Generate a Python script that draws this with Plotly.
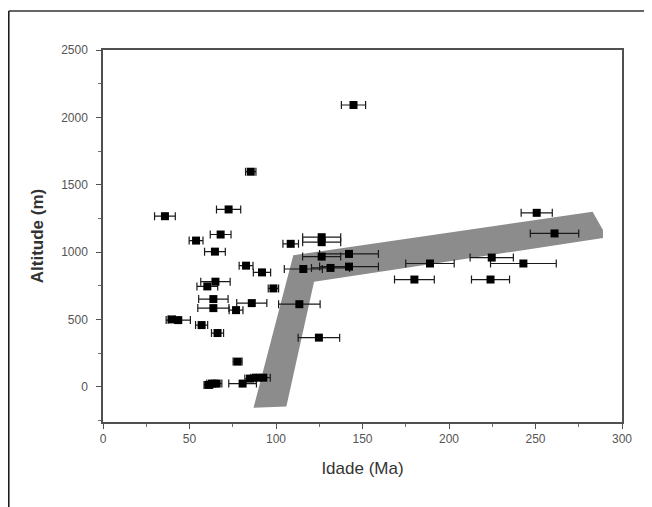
import plotly.graph_objects as go

# Sample ages (Ma), altitudes (m) and age uncertainties (Ma)
age = [144.8, 85.4, 72.6, 35.8, 68.0, 53.8, 64.7, 108.5, 126.4, 126.4,
       126.4, 142.2, 142.2, 131.5, 115.8, 82.7, 91.9, 98.5, 60.3, 65.0,
       63.8, 63.8, 76.9, 86.0, 113.5, 39.7, 43.5, 57.0, 66.2, 124.8,
       77.8, 85.0, 88.4, 92.7, 80.7, 60.9, 63.0, 65.7, 180.0, 189.0,
       224.0, 224.7, 243.0, 250.7, 261.0]
alt = [2092, 1597, 1317, 1267, 1131, 1086, 1004, 1062, 1111, 1074,
       967, 987, 893, 883, 875, 900, 850, 731, 746, 781,
       652, 585, 570, 622, 614, 501, 496, 459, 400, 366,
       188, 62, 69, 69, 25, 15, 25, 25, 797, 916,
       797, 960, 916, 1292, 1139]
age_err = [7, 3, 7, 6, 6, 4, 6, 4.5, 11, 11,
           11, 17, 17, 11, 11, 4, 5, 3, 6, 8.5,
           8.5, 9, 4, 8.7, 12, 2, 7, 3.5, 3.5, 12,
           2.6, 3, 3, 4, 8, 2.5, 3, 3, 11.5, 14,
           11, 12.5, 19, 9, 14]

# Grey band (trend envelope)
band_x = [87, 106, 122, 289, 289, 283, 110, 87]
band_y = [-155, -145, 780, 1105, 1165, 1300, 978, -155]

x_ticks = [0, 50, 100, 150, 200, 250, 300]
y_ticks = [0, 500, 1000, 1500, 2000, 2500]

fig = go.Figure()
fig.add_trace(go.Scatter(
    x=band_x, y=band_y, mode="lines", fill="toself",
    fillcolor="#8c8c8c", line=dict(width=0, color="#8c8c8c"),
    hoverinfo="skip"))
fig.add_trace(go.Scatter(
    x=age, y=alt, mode="markers",
    marker=dict(symbol="square", size=8, color="black"),
    error_x=dict(type="data", array=age_err, visible=True,
                 color="#1a1a1a", thickness=1.2, width=4)))

FONT = "Liberation Sans, Arial, sans-serif"
axis_font = dict(family=FONT, size=12, color="#555555")

# plot area: 519 x 372 px
PW, PH = 519, 372
L, T = 95, 42

fig.update_layout(
    width=644, height=499,
    margin=dict(l=L, r=30, t=T, b=85),
    paper_bgcolor="white", plot_bgcolor="white",
    showlegend=False,
    font=dict(family=FONT),
    xaxis=dict(
        range=[0, 300], tickvals=x_ticks, ticktext=[str(v) for v in x_ticks],
        showgrid=False, zeroline=False,
        showline=True, linecolor="#505050", linewidth=1.5, mirror=True,
        ticks="outside", ticklen=5, tickcolor="#505050",
        minor=dict(dtick=25, tick0=0, ticks="outside", ticklen=3, tickcolor="#707070"),
        tickfont=axis_font,
        title=dict(text="Idade (Ma)", standoff=17,
                   font=dict(family=FONT, size=17, color="#333333")),
    ),
    yaxis=dict(
        range=[-260, 2500], tickvals=y_ticks, ticktext=[str(v) for v in y_ticks],
        showgrid=False, zeroline=False,
        showline=True, linecolor="#505050", linewidth=1.5, mirror=True,
        ticks="outside", ticklen=5, tickcolor="#505050",
        minor=dict(dtick=250, tick0=0, ticks="outside", ticklen=3, tickcolor="#707070"),
        tickfont=axis_font, ticklabelstandoff=6,
        title=dict(text="<b>Altitude (m)</b>", standoff=13,
                   font=dict(family=FONT, size=17, color="#333333")),
    ),
    shapes=[
        dict(type="line", xref="paper", yref="paper",
             x0=(0.8 - L) / PW, x1=(644 - L) / PW,
             y0=(T + PH - 3) / PH, y1=(T + PH - 3) / PH,
             line=dict(color="#333333", width=1.5)),
        dict(type="line", xref="paper", yref="paper",
             x0=(0.8 - L) / PW, x1=(0.8 - L) / PW,
             y0=(T + PH - 3) / PH, y1=(T + PH - 510) / PH,
             line=dict(color="#111111", width=1.5)),
    ],
)

fig.write_html("out.html")
